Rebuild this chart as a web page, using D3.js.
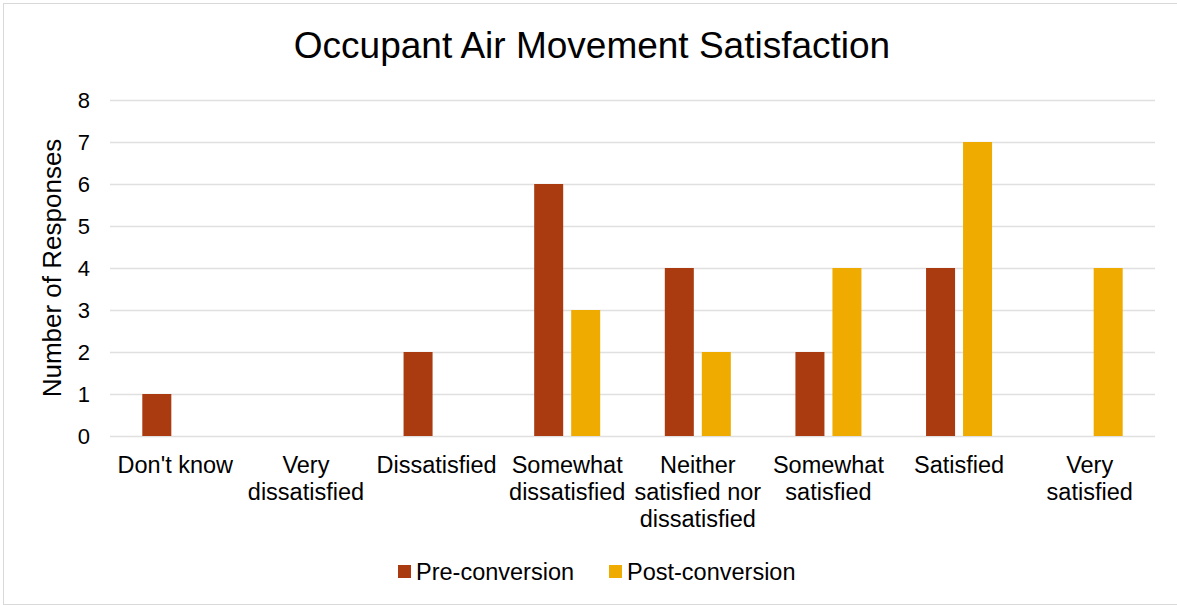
<!DOCTYPE html>
<html>
<head>
<meta charset="utf-8">
<script src="https://cdn.jsdelivr.net/npm/d3@7"></script>
<style>
  body { margin: 0; background: #fff; }
  svg { display: block; font-family: "Liberation Sans", Arial, sans-serif; }
</style>
</head>
<body>
<svg id="chart" width="1177" height="605"></svg>
<script>
// chart data
const categories = ["Don't know", "Very dissatisfied", "Dissatisfied", "Somewhat dissatisfied",
  "Neither satisfied nor dissatisfied", "Somewhat satisfied", "Satisfied", "Very satisfied"];
// how each category label wraps under the axis
const categoryLines = [["Don't know"], ["Very", "dissatisfied"], ["Dissatisfied"], ["Somewhat", "dissatisfied"],
  ["Neither", "satisfied nor", "dissatisfied"], ["Somewhat", "satisfied"], ["Satisfied"], ["Very", "satisfied"]];
const seriesNames = ["Pre-conversion", "Post-conversion"];
const preValues = [1, 0, 2, 6, 4, 2, 4, 0];
const postValues = [0, 0, 0, 3, 2, 4, 7, 4];
const yTicks = [0, 1, 2, 3, 4, 5, 6, 7, 8];
const colors = ["#AA3A10", "#F0AB00"];

let width = 1177;
let height = 605;
let margin = { top: 100, right: 22, bottom: 169, left: 110 };

const svg = d3.select("#chart");

// outer border
svg.append("rect")
  .attr("x", 3.5).attr("y", 3.5)
  .attr("width", width - 3).attr("height", height - 4)
  .attr("fill", "#fff").attr("stroke", "#d9d9d9").attr("stroke-width", 1);

// scales
let x = d3.scaleBand()
  .domain(categories)
  .range([margin.left, width - margin.right]);

let x1 = d3.scaleBand()
  .domain(seriesNames)
  .range([0, x.bandwidth()])
  .paddingInner(0.216)
  .paddingOuter(0.873);

let y = d3.scaleLinear()
  .domain([0, 8])
  .range([height - margin.bottom, margin.top]);

// gridlines + y labels
const yAxis = d3.axisLeft(y)
  .tickValues(yTicks)
  .tickSize(-(width - margin.left - margin.right))
  .tickPadding(20);

svg.append("g")
  .attr("transform", `translate(${margin.left},0)`)
  .call(yAxis)
  .call((g) => g.select(".domain").remove())
  .call((g) => g.selectAll(".tick line").attr("stroke", "#e0e0e0").attr("stroke-width", 1.5))
  .call((g) => g.selectAll(".tick text")
    .attr("fill", "#000")
    .style("font-size", "22px")
    .style("font-family", "'Liberation Sans', Arial, sans-serif"));

// bars
const data = categories.map((c, i) => ({ cat: c, values: [preValues[i], postValues[i]] }));

const groups = svg.append("g")
  .selectAll("g")
  .data(data)
  .join("g")
  .attr("transform", (d) => `translate(${x(d.cat)},0)`);

groups.selectAll("rect")
  .data((d) => d.values.map((v, j) => ({ series: seriesNames[j], value: v, j: j })))
  .join("rect")
  .filter((d) => d.value > 0)
  .attr("x", (d) => x1(d.series))
  .attr("width", x1.bandwidth())
  .attr("y", (d) => y(d.value))
  .attr("height", (d) => y(0) - y(d.value))
  .attr("fill", (d) => colors[d.j]);

// x labels
const xLab = svg.append("g")
  .selectAll("text")
  .data(categories)
  .join("text")
  .attr("text-anchor", "middle")
  .attr("x", (d) => x(d) + x.bandwidth() / 2)
  .attr("y", 473)
  .style("font-size", "23.5px")
  .attr("fill", "#000");

xLab.each(function (d, i) {
  d3.select(this).selectAll("tspan")
    .data(categoryLines[i])
    .join("tspan")
    .attr("x", x(d) + x.bandwidth() / 2)
    .attr("dy", (t, k) => (k === 0 ? 0 : 27))
    .text((t) => t);
});

// title
svg.append("text")
  .attr("x", 592)
  .attr("y", 58)
  .attr("text-anchor", "middle")
  .style("font-size", "37px")
  .attr("fill", "#000")
  .text("Occupant Air Movement Satisfaction");

// y axis title
svg.append("text")
  .attr("transform", `translate(61,${(margin.top + height - margin.bottom) / 2}) rotate(-90)`)
  .attr("text-anchor", "middle")
  .style("font-size", "26px")
  .attr("fill", "#000")
  .text("Number of Responses");

// legend
const legendItems = [
  { name: seriesNames[0], color: colors[0], x: 398 },
  { name: seriesNames[1], color: colors[1], x: 609 }
];

const legend = svg.append("g")
  .selectAll("g")
  .data(legendItems)
  .join("g")
  .attr("transform", (d) => `translate(${d.x},565)`);

legend.append("rect")
  .attr("width", 13).attr("height", 13)
  .attr("fill", (d) => d.color);

legend.append("text")
  .attr("x", 18)
  .attr("y", 15)
  .style("font-size", "23.5px")
  .attr("fill", "#000")
  .text((d) => d.name);
</script>
</body>
</html>
